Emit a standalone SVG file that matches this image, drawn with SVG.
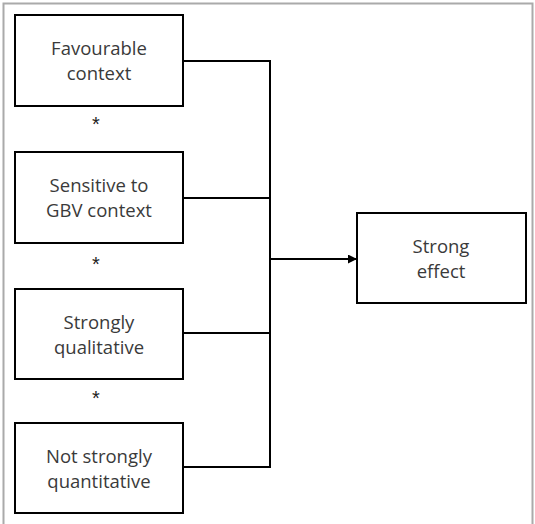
<svg xmlns="http://www.w3.org/2000/svg" width="535" height="524" viewBox="0 0 535 524">
<style>
.box{fill:#fff;stroke:#000;stroke-width:2}
.t{font-family:"Open Sans","Liberation Sans",sans-serif;font-size:18.5px;fill:#3a3a3a;text-anchor:middle}
.ast{font-family:"Liberation Sans",sans-serif;font-size:20px;fill:#222;text-anchor:middle}
.c{fill:none;stroke:#000;stroke-width:2}
</style>
<defs>
<marker id="ah" markerWidth="9" markerHeight="9" refX="8" refY="4.5" orient="auto" markerUnits="userSpaceOnUse">
<path d="M0,0 L9,4.5 L0,9 z" fill="#000"/>
</marker>
</defs>
<rect width="535" height="524" fill="#fff"/>
<path d="M3.5,524 V3.5 H532.5 V524" fill="none" stroke="#aaa" stroke-width="2"/>
<g id="connectors">
<path class="c" d="M183,61 H270 V467 H183"/>
<path class="c" d="M183,198 H270"/>
<path class="c" d="M183,333 H270"/>
<path class="c" d="M270,259 H356" marker-end="url(#ah)"/>
</g>
<g id="n1"><rect class="box" x="15" y="15" width="168" height="91"/>
<text class="t" x="99" y="55">Favourable</text><text class="t" x="99" y="80">context</text></g>
<g id="n2"><rect class="box" x="15" y="152" width="168" height="91"/>
<text class="t" x="99" y="192">Sensitive to</text><text class="t" x="99" y="217">GBV context</text></g>
<g id="n3"><rect class="box" x="15" y="289" width="168" height="90"/>
<text class="t" x="99" y="329">Strongly</text><text class="t" x="99" y="354">qualitative</text></g>
<g id="n4"><rect class="box" x="15" y="423" width="168" height="90"/>
<text class="t" x="99" y="463">Not strongly</text><text class="t" x="99" y="488">quantitative</text></g>
<g id="n5"><rect class="box" x="357" y="213" width="169" height="90"/>
<text class="t" x="441" y="253">Strong</text><text class="t" x="441" y="278">effect</text></g>
<g id="ops">
<text class="ast" x="96" y="131">*</text>
<text class="ast" x="96" y="271">*</text>
<text class="ast" x="96" y="405">*</text>
</g>
</svg>
